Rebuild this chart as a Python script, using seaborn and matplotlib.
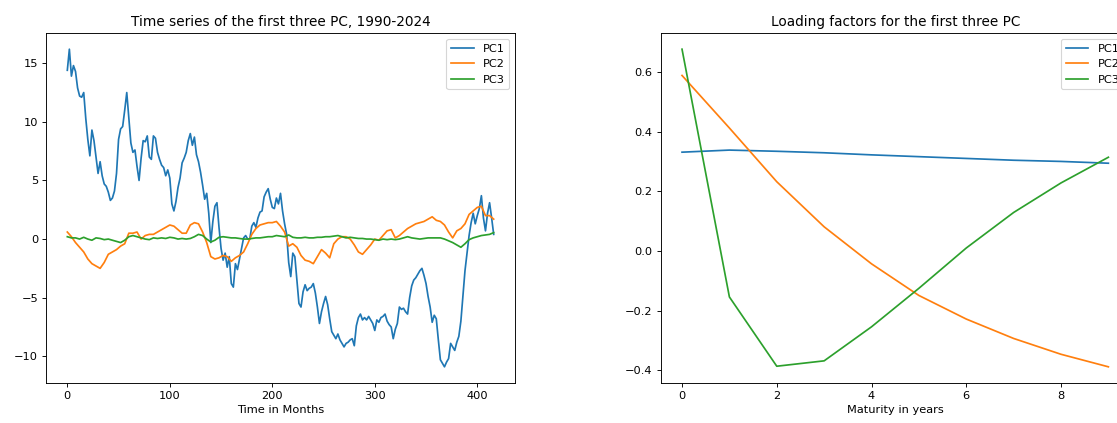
"""Time series and loading factors of the first three principal components."""

import matplotlib

matplotlib.use("Agg")
import matplotlib.pyplot as plt
import numpy as np
import seaborn as sns

# Monthly PC scores (PC1 every 2 months,
# PC2 / PC3 every 4 months)
months_pc1 = np.arange(0, 418, 2)
pc1 = [
    14.4, 16.2, 13.9, 14.8, 14.3, 12.9, 12.2, 12.1, 12.5, 10.3,
    8.5, 7.1, 9.3, 8.4, 7.0, 5.6, 6.6, 5.4, 4.7, 4.5,
    4.0, 3.3, 3.5, 4.1, 5.6, 8.5, 9.4, 9.6, 11.0, 12.5,
    10.3, 8.2, 7.4, 7.6, 6.2, 5.0, 6.9, 8.4, 8.3, 8.8,
    7.0, 6.8, 8.8, 8.6, 7.4, 6.8, 6.3, 6.1, 5.4, 5.9,
    5.2, 3.0, 2.4, 3.2, 4.4, 5.2, 6.5, 6.9, 7.4, 8.4,
    9.0, 8.0, 8.7, 7.2, 6.6, 5.7, 4.6, 3.4, 3.9, 2.2,
    -0.3, 1.5, 2.8, 3.1, 1.0, -0.8, -1.8, -1.2, -2.4, -1.5,
    -3.8, -4.1, -2.1, -2.6, -1.7, -0.8, 0.1, 0.3, 0.0, 0.0,
    1.1, 1.4, 1.0, 1.8, 2.3, 2.4, 3.6, 4.0, 4.3, 3.4,
    2.7, 2.6, 3.5, 3.0, 3.9, 2.4, 1.3, 0.4, -2.0, -3.2,
    -1.2, -1.5, -3.5, -5.5, -5.8, -4.5, -3.9, -4.4, -4.2, -4.1,
    -3.8, -4.6, -5.8, -7.2, -6.2, -5.5, -4.9, -5.6, -6.8, -7.9,
    -8.2, -8.5, -8.1, -8.6, -8.9, -9.2, -8.9, -8.8, -8.6, -8.5,
    -9.1, -7.4, -6.7, -6.4, -6.9, -6.7, -6.9, -6.6, -6.9, -7.2,
    -7.8, -6.9, -7.1, -6.7, -6.6, -6.4, -7.0, -7.3, -7.5, -8.5,
    -7.7, -7.2, -5.8, -6.0, -5.9, -6.2, -6.4, -5.0, -4.0, -3.5,
    -3.3, -3.0, -2.7, -2.5, -3.1, -3.8, -4.9, -5.8, -7.1, -6.5,
    -6.8, -8.6, -10.3, -10.6, -10.9, -10.5, -10.2, -8.9, -9.2, -9.5,
    -8.8, -8.3, -7.0, -4.8, -2.7, -1.2, 0.3, 1.4, 2.2, 1.3,
    2.0, 2.6, 3.7, 1.8, 0.7, 2.2, 3.1, 1.8, 0.4,
]

months_pc23 = np.arange(0, 418, 4)
pc2 = [
    0.6, 0.2, -0.3, -0.7, -1.1, -1.7, -2.1, -2.3, -2.5, -2.0,
    -1.3, -1.1, -0.9, -0.6, -0.4, 0.5, 0.5, 0.6, 0.0, 0.3,
    0.4, 0.4, 0.6, 0.8, 1.0, 1.2, 1.1, 0.8, 0.5, 0.5,
    1.2, 1.4, 1.3, 0.6, -0.3, -1.5, -1.7, -1.6, -1.4, -1.5,
    -1.9, -1.6, -1.4, -1.1, -0.4, 0.4, 0.9, 1.2, 1.3, 1.4,
    1.4, 1.5, 1.1, 0.6, -0.6, -0.4, -0.7, -1.4, -1.8, -1.9,
    -2.1, -1.5, -0.9, -1.2, -1.6, -0.4, 0.0, 0.2, 0.2, 0.0,
    -0.5, -1.1, -1.3, -0.9, -0.5, 0.0, -0.1, 0.3, 0.7, 0.8,
    0.1, 0.3, 0.6, 0.9, 1.1, 1.3, 1.4, 1.5, 1.7, 1.9,
    1.6, 1.5, 1.2, 0.6, 0.1, 0.7, 0.9, 1.3, 2.1, 2.4,
    2.7, 2.8, 2.0, 2.0, 1.7,
]
pc3 = [
    0.2, 0.1, 0.1, 0.0, 0.15, 0.0, -0.1, 0.1, 0.05, -0.05,
    0.0, -0.1, -0.2, -0.3, -0.1, 0.2, 0.3, 0.2, 0.1, 0.0,
    -0.05, 0.1, 0.05, 0.1, 0.05, 0.15, 0.1, 0.0, 0.05, 0.0,
    0.05, 0.2, 0.4, 0.3, 0.0, -0.25, -0.1, 0.15, 0.2, 0.15,
    0.1, 0.1, 0.05, 0.0, 0.0, 0.05, 0.1, 0.1, 0.15, 0.2,
    0.2, 0.3, 0.25, 0.2, 0.35, 0.15, 0.1, 0.1, 0.15, 0.1,
    0.1, 0.15, 0.15, 0.2, 0.2, 0.25, 0.3, 0.2, 0.1, 0.15,
    0.1, 0.05, 0.05, 0.0, 0.0, -0.05, -0.1, 0.0, -0.05, 0.0,
    -0.05, 0.0, 0.1, 0.2, 0.1, 0.05, 0.0, 0.05, 0.1, 0.1,
    0.1, 0.1, 0.0, -0.15, -0.3, -0.5, -0.7, -0.4, -0.05, 0.1,
    0.2, 0.3, 0.35, 0.4, 0.55,
]

# Loading factors by maturity
maturities = np.arange(10)
load_pc1 = [0.331, 0.338, 0.334, 0.329, 0.322, 0.316, 0.310, 0.304, 0.300, 0.294]
load_pc2 = [0.588, 0.412, 0.232, 0.081, -0.043, -0.149, -0.228, -0.293, -0.346, -0.388]
load_pc3 = [0.676, -0.154, -0.386, -0.368, -0.254, -0.125, 0.010, 0.129, 0.228, 0.314]

W, H, DPI = 1117, 423, 82
fig = plt.figure(figsize=(W / DPI, H / DPI), dpi=DPI)

# The reference is a crop: the right panel runs past the right edge
ax_w = 469 / W
ax_b = (H - 382.7) / H
ax_h = 349.4 / H
ax1 = fig.add_axes([46 / W, ax_b, ax_w, ax_h])
ax2 = fig.add_axes([660.7 / W, ax_b, ax_w, ax_h])

sns.lineplot(x=months_pc1, y=pc1, label="PC1", ax=ax1)
sns.lineplot(x=months_pc23, y=pc2, label="PC2", ax=ax1)
sns.lineplot(x=months_pc23, y=pc3, label="PC3", ax=ax1)
ax1.set_title("Time series of the first three PC, 1990-2024")
ax1.set_xlabel("Time in Months")
ax1.legend(loc="upper right")

sns.lineplot(x=maturities, y=load_pc1, label="PC1", ax=ax2)
sns.lineplot(x=maturities, y=load_pc2, label="PC2", ax=ax2)
sns.lineplot(x=maturities, y=load_pc3, label="PC3", ax=ax2)
ax2.set_title("Loading factors for the first three PC")
ax2.set_xlabel("Maturity in years")
ax2.legend(loc="upper right")

fig.savefig("out.png", dpi=DPI)
